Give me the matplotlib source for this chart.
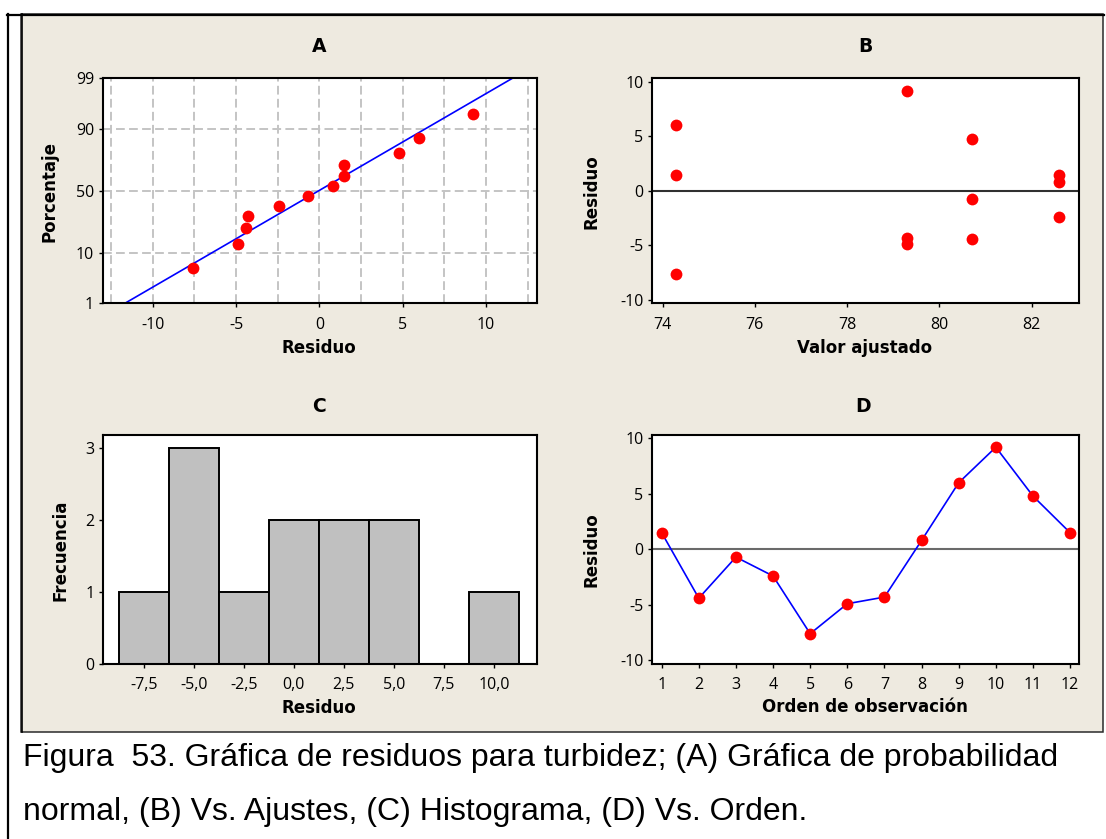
import matplotlib
matplotlib.use("Agg")
import matplotlib.pyplot as plt
from matplotlib.lines import Line2D
from matplotlib.patches import Rectangle
from statistics import NormalDist
import numpy as np

plt.rcParams["axes.unicode_minus"] = False

# ---- data -------------------------------------------------------------
orden = list(range(1, 13))
residuos = [1.5, -4.4, -0.7, -2.4, -7.6, -4.9, -4.3, 0.8, 6.0, 9.2, 4.8, 1.5]
ajustados = [74.3, 80.7, 80.7, 82.6, 74.3, 79.3, 79.3, 82.6, 74.3, 79.3, 80.7, 82.6]
# plotting positions (%) of the sorted residuals
porcentajes = [5.6, 13.7, 21.8, 29.8, 37.9, 46.0, 54.0, 62.1, 70.2, 78.2, 86.3, 94.4]

prob_ticks = [1, 10, 50, 90, 99]
prob_grid = [10, 50, 90]
resid_ticks = [-10, -5, 0, 5, 10]
ajuste_ticks = [74, 76, 78, 80, 82]
hist_ticks = [-7.5, -5.0, -2.5, 0.0, 2.5, 5.0, 7.5, 10.0]
frec_ticks = [0, 1, 2, 3]

caption = ["Figura  53. Gráfica de residuos para turbidez; (A) Gráfica de probabilidad",
           "normal, (B) Vs. Ajustes, (C) Histograma, (D) Vs. Orden."]

# ---- styling ----------------------------------------------------------
W, H = 1106, 839
BEIGE = "#EEEAE0"
TICK_FONT = "Open Sans"
LABEL_FONT = "DejaVu Sans"

fig = plt.figure(figsize=(W / 100, H / 100), dpi=100)
fig.patch.set_facecolor("white")


def fx(x):
    return x / W


def fy(y):
    return 1 - y / H


# frame and panel background
fig.add_artist(Rectangle((fx(21), fy(732)), fx(1103) - fx(21), fy(14) - fy(732),
                         transform=fig.transFigure, facecolor=BEIGE,
                         edgecolor="#2a2a2a", lw=1.1, zorder=0))
fig.add_artist(Line2D([fx(7.5), fx(7.5)], [fy(13.5), fy(839)], transform=fig.transFigure,
                      color="black", lw=1.6, zorder=1))
fig.add_artist(Line2D([fx(6.7), fx(1104)], [fy(14.5), fy(14.5)], transform=fig.transFigure,
                      color="black", lw=1.6, zorder=1))
fig.add_artist(Line2D([fx(21.5), fx(21.5)], [fy(14), fy(732)], transform=fig.transFigure,
                      color="black", lw=1.2, zorder=1))


def make_ax(l, r, t, b):
    ax = fig.add_axes([fx(l), fy(b), (r - l) / W, (b - t) / H])
    ax.set_facecolor("white")
    for s in ax.spines.values():
        s.set_linewidth(1.5)
        s.set_color("black")
    ax.tick_params(direction="out", length=2.6, width=1.0, color="black")
    ax.tick_params(axis="x", pad=7.0)
    ax.tick_params(axis="y", pad=3.6)
    ax.box = (l, r, t, b)
    return ax


def style_ticklabels(ax):
    for lab in ax.get_xticklabels() + ax.get_yticklabels():
        lab.set_fontfamily(TICK_FONT)
        lab.set_fontsize(11.5)


def place_labels(ax, title, xlabel, ylabel, title_xy, xlabel_xy, ylabel_xy):
    l, r, t, b = ax.box

    def to_ax(px, py):
        return (px - l) / (r - l), (b - py) / (b - t)

    tx, ty = to_ax(*title_xy)
    ax.text(tx, ty, title, transform=ax.transAxes, ha="center", va="center",
            fontsize=13.5, fontweight="bold", family=LABEL_FONT, clip_on=False)
    ax.set_xlabel(xlabel, fontsize=12, fontweight="bold", family=LABEL_FONT)
    ax.xaxis.set_label_coords(*to_ax(*xlabel_xy))
    ax.xaxis.label.set_va("center")
    ax.set_ylabel(ylabel, fontsize=12, fontweight="bold", family=LABEL_FONT)
    ax.yaxis.set_label_coords(*to_ax(*ylabel_xy))
    ax.yaxis.label.set_va("center")


RED = "#FF0000"
BLUE = "#0000FF"
MS = 8.5

# ---- A: normal probability plot ---------------------------------------
nd = NormalDist()
axA = make_ax(102.7, 537.3, 78.3, 303.3)
zlim = (nd.inv_cdf(0.01), nd.inv_cdf(0.99))
axA.set_xlim(-13.0, 13.08)
axA.set_ylim(*zlim)
for v in np.arange(-12.5, 12.6, 2.5):
    axA.axvline(v, color="#C4C4C4", lw=1.4, ls=(0, (4.5, 2.2)), zorder=1)
for p in prob_grid:
    axA.axhline(nd.inv_cdf(p / 100), color="#C4C4C4", lw=1.4, ls=(0, (4.5, 2.2)), zorder=1)
mu = float(np.mean(residuos))
sd = float(np.std(residuos, ddof=1))
zz = np.linspace(zlim[0], zlim[1], 200)
axA.plot(mu + sd * zz, zz, color=BLUE, lw=1.2, zorder=2)
axA.plot(sorted(residuos), [nd.inv_cdf(p / 100) for p in porcentajes], "o",
         color=RED, ms=MS, mec="none", zorder=3)
axA.set_xticks(resid_ticks)
axA.set_xticklabels([str(v) for v in resid_ticks])
axA.set_yticks([nd.inv_cdf(p / 100) for p in prob_ticks])
axA.set_yticklabels([str(p) for p in prob_ticks])
style_ticklabels(axA)
place_labels(axA, "A", "Residuo", "Porcentaje", (319, 46), (319, 348), (49, 192))

# ---- B: residuals vs fitted values ------------------------------------
axB = make_ax(652, 1079, 78.3, 303.3)
axB.set_xlim(73.77, 83.03)
axB.set_ylim(-10.3, 10.32)
axB.axhline(0, color="#303030", lw=1.5, zorder=1)
axB.plot(ajustados, residuos, "o", color=RED, ms=MS, mec="none", zorder=3)
axB.set_xticks(ajuste_ticks)
axB.set_xticklabels([str(v) for v in ajuste_ticks])
axB.set_yticks(resid_ticks)
axB.set_yticklabels([str(v) for v in resid_ticks])
style_ticklabels(axB)
place_labels(axB, "B", "Valor ajustado", "Residuo", (865, 46), (865, 348), (591, 192))

# ---- C: histogram of residuals ----------------------------------------
axC = make_ax(103, 537, 435, 664)
edges = np.arange(-8.75, 11.26, 2.5)
axC.hist(residuos, bins=edges, color="#C0C0C0", edgecolor="black", lw=1.4, zorder=2)
axC.set_xlim(-9.55, 12.16)
axC.set_ylim(0, 3.18)
axC.set_xticks(hist_ticks)
axC.set_xticklabels([f"{v:.1f}".replace(".", ",") for v in hist_ticks])
axC.set_yticks(frec_ticks)
axC.set_yticklabels([str(v) for v in frec_ticks])
style_ticklabels(axC)
place_labels(axC, "C", "Residuo", "Frecuencia", (319, 406), (319, 708), (60, 550))

# ---- D: residuals vs observation order --------------------------------
axD = make_ax(652, 1079, 435, 664)
axD.set_xlim(0.74, 12.24)
axD.set_ylim(-10.33, 10.3)
axD.axhline(0, color="#6A6A6A", lw=1.5, zorder=1)
axD.plot(orden, residuos, "-", color=BLUE, lw=1.2, zorder=2)
axD.plot(orden, residuos, "o", color=RED, ms=MS, mec="none", zorder=3)
axD.set_xticks(orden)
axD.set_xticklabels([str(v) for v in orden])
axD.set_yticks(resid_ticks)
axD.set_yticklabels([str(v) for v in resid_ticks])
style_ticklabels(axD)
place_labels(axD, "D", "Orden de observación", "Residuo", (863, 406), (865, 707), (591, 550))

# ---- caption ----------------------------------------------------------
fig.text(fx(23), fy(766), caption[0], fontsize=23, family="Liberation Sans",
         va="baseline", ha="left", color="black")
fig.text(fx(23), fy(820), caption[1], fontsize=23, family="Liberation Sans",
         va="baseline", ha="left", color="black")

fig.savefig("out.png", dpi=100, facecolor=fig.get_facecolor())
